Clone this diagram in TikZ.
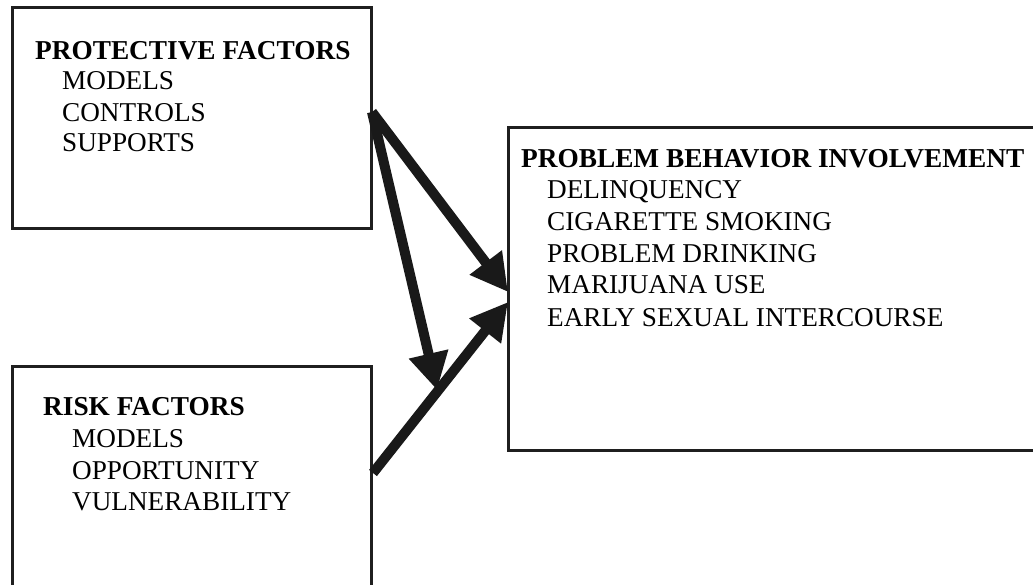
\documentclass[tikz,border=0pt]{standalone}
\usepackage{fontspec}
\setmainfont{Liberation Serif}
\usetikzlibrary{arrows.meta}
\tikzset{
  box/.style={draw=black!88, line width=3pt, rectangle, inner sep=0pt},
  head/.style={anchor=base west, inner sep=0pt, font=\fontsize{27.3}{31}\selectfont\bfseries},
  item/.style={anchor=base west, inner sep=0pt, font=\fontsize{27.2}{31}\selectfont},
  conn/.style={line width=10pt, black!90, -{Triangle[length=37pt,width=38pt]}}
}
\begin{document}
\begin{tikzpicture}[x=1pt,y=-1pt]
\useasboundingbox (0,0) rectangle (1033,585);
\fill[white] (0,0) rectangle (1033,585);
\clip (0,0) rectangle (1033,585);
% boxes
\node[box, minimum width=359pt, minimum height=221pt] (prot) at (191.5,118.5) {};
\node[box, minimum width=359pt, minimum height=260pt] (risk) at (191.5,496) {};
\node[box, minimum width=560pt, minimum height=322pt] (prob) at (788,289) {};
% texts
\node[head] (pt) at (35,60) {PROTECTIVE FACTORS};
\node[item] (p1) at (62,90) {MODELS};
\node[item] (p2) at (62,121.5) {CONTROLS};
\node[item] (p3) at (62,152) {SUPPORTS};
\node[head] (rt) at (43,415) {RISK FACTORS};
\node[item] (r1) at (72,447) {MODELS};
\node[item] (r2) at (72,479) {OPPORTUNITY};
\node[item] (r3) at (72,510) {VULNERABILITY};
\node[head] (bt) at (521,168) {PROBLEM BEHAVIOR INVOLVEMENT};
\node[item] (b1) at (547,199) {DELINQUENCY};
\node[item] (b2) at (547,231) {CIGARETTE SMOKING};
\node[item] (b3) at (547,263) {PROBLEM DRINKING};
\node[item] (b4) at (547,294) {MARIJUANA USE};
\node[item] (b5) at (547,326) {EARLY SEXUAL INTERCOURSE};
% connector ends
\coordinate (pout) at (372,112);
\coordinate (rout) at (373,473);
\coordinate (in1) at (508,292);
\coordinate (in2) at (508,302);
\coordinate (mid) at (437,390);
\draw[conn] (pout) -- (in1);
\draw[conn] (rout) -- (in2);
\draw[conn] (pout) -- (mid);
\end{tikzpicture}
\end{document}
